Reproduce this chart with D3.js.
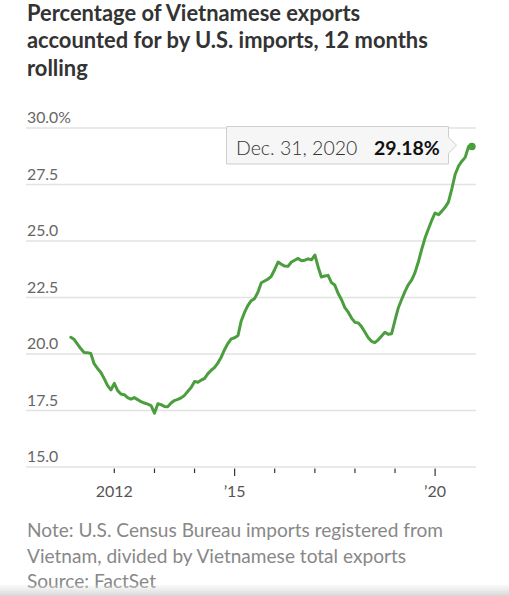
<!DOCTYPE html>
<html>
<head>
<meta charset="utf-8">
<script src="https://cdn.jsdelivr.net/npm/d3@7"></script>
<style>
  html, body { margin: 0; padding: 0; background: #fff; }
  svg { display: block; }
</style>
</head>
<body>
<script>
// ---------- DATA ----------
const titleLines = ["Percentage of Vietnamese exports", "accounted for by U.S. imports, 12 months", "rolling"];
const noteLines = ["Note: U.S. Census Bureau imports registered from", "Vietnam, divided by Vietnamese total exports", "Source: FactSet"];
const startMonth = "2010-12"; // first monthly observation
const values = [
  20.74, 20.64, 20.43, 20.24, 20.07, 20.06, 20.02, 19.57, 19.36, 19.18, 18.91, 18.60,
  18.41, 18.70, 18.38, 18.23, 18.20, 18.07, 18.00, 18.07, 17.98, 17.89, 17.83, 17.78,
  17.72, 17.38, 17.80, 17.76, 17.68, 17.67, 17.83, 17.94, 17.99, 18.06, 18.17, 18.35,
  18.52, 18.78, 18.75, 18.84, 18.91, 19.12, 19.28, 19.40, 19.60, 19.86, 20.19, 20.47,
  20.67, 20.72, 20.82, 21.45, 21.84, 22.14, 22.36, 22.45, 22.73, 23.15, 23.23, 23.31,
  23.44, 23.74, 24.07, 23.97, 23.89, 23.88, 24.07, 24.15, 24.23, 24.13, 24.15, 24.21,
  24.17, 24.38, 23.83, 23.41, 23.45, 23.48, 23.16, 23.05, 22.68, 22.40, 22.05, 21.85,
  21.59, 21.40, 21.37, 21.22, 20.97, 20.73, 20.56, 20.50, 20.63, 20.80, 20.96, 20.87,
  20.90, 21.50, 22.06, 22.40, 22.76, 23.06, 23.27, 23.59, 24.07, 24.63, 25.13, 25.53,
  25.91, 26.24, 26.16, 26.31, 26.49, 26.72, 27.30, 27.94, 28.31, 28.53, 28.70, 29.18,
  29.18
];
const yTicks = [15, 17.5, 20, 22.5, 25, 27.5, 30];
const yTickLabels = ["15.0", "17.5", "20.0", "22.5", "25.0", "27.5", "30.0%"];
const xTickYears = [2012, 2013, 2014, 2015, 2016, 2017, 2018, 2019, 2020];
const xLabelYears = [2012, 2015, 2020];
const xLabelText = ["2012", "\u201915", "\u201920"];
const tooltipDate = "Dec. 31, 2020";
const tooltipValue = "29.18%";

// ---------- SETUP ----------
const W = 509, H = 596;
const svg = d3.select("body").append("svg").attr("width", W).attr("height", H);
const FONT = "Lato, 'Noto Sans', sans-serif";

const parse = d3.timeParse("%Y-%m");
const t0 = parse(startMonth);
const data = values.map((v, i) => ({ date: d3.timeMonth.offset(t0, i), value: v }));

const left = 26, right = 476;
const x = d3.scaleTime()
  .domain([new Date(2012, 0, 1), new Date(2020, 0, 1)])
  .range([114.3, 435.1]);
const y = d3.scaleLinear().domain([15, 30]).range([467, 128]);

// fit a block of text lines so that a chosen line spans a target width
function fitSize(sel, idx, target, base) {
  const n = sel.nodes()[idx];
  const w = n.getComputedTextLength();
  const s = base * target / w;
  sel.attr("font-size", s);
}

// Title
const title = svg.append("g").selectAll("text").data(titleLines).join("text")
  .attr("x", 27).attr("y", (d, i) => 20.5 + i * 27.8)
  .attr("font-family", FONT).attr("font-weight", 700)
  .attr("font-size", 20).attr("fill", "#333")
  .text(d => d);
fitSize(title, 1, 401, 20);

// Grid + y labels
const grid = svg.append("g");
grid.selectAll("line").data(yTicks).join("line")
  .attr("x1", left).attr("x2", right)
  .attr("y1", d => y(d)).attr("y2", d => y(d))
  .attr("stroke", "#e2e2e2").attr("stroke-width", 1.5);
grid.selectAll("text").data(yTicks).join("text")
  .attr("x", 27).attr("y", d => y(d) - 5)
  .attr("font-family", FONT).attr("font-size", 15.8).attr("fill", "#666")
  .text((d, i) => yTickLabels[i]);

// X axis ticks
const xg = svg.append("g");
xg.selectAll("line").data(xTickYears).join("line")
  .attr("x1", d => x(new Date(d, 0, 1))).attr("x2", d => x(new Date(d, 0, 1)))
  .attr("y1", 468.5)
  .attr("y2", d => (d === 2015 || d === 2020) ? 476 : 473)
  .attr("stroke", "#333").attr("stroke-width", 1.2);
xg.selectAll("text").data(xLabelYears).join("text")
  .attr("x", d => x(new Date(d, 0, 1))).attr("y", 497)
  .attr("text-anchor", "middle")
  .attr("font-family", FONT).attr("font-size", 16).attr("fill", "#555")
  .text((d, i) => xLabelText[i]);

// Line
const line = d3.line().x(d => x(d.date)).y(d => y(d.value)).curve(d3.curveLinear);
svg.append("path").datum(data)
  .attr("d", line)
  .attr("fill", "none").attr("stroke", "#4b9e3e")
  .attr("stroke-width", 3).attr("stroke-linejoin", "round").attr("stroke-linecap", "round");

const last = data[data.length - 1];
svg.append("circle").attr("cx", x(last.date)).attr("cy", y(last.value)).attr("r", 3.8)
  .attr("fill", "#4b9e3e");

// Tooltip
const tx = 226.5, ty = 126.5, tw = 222, th = 37.5, tp = 8;
const tt = svg.append("g");
tt.append("path")
  .attr("d", `M${tx},${ty} H${tx + tw} V${ty + th / 2 - tp} L${tx + tw + tp},${ty + th / 2} L${tx + tw},${ty + th / 2 + tp} V${ty + th} H${tx} Z`)
  .attr("fill", "#f6f6f6").attr("stroke", "#cfcfcf").attr("stroke-width", 1);
tt.append("text").attr("x", 236).attr("y", 155)
  .attr("font-family", FONT).attr("font-size", 19.5).attr("fill", "#333").attr("font-weight", 300)
  .text(tooltipDate);
tt.append("text").attr("x", 374).attr("y", 155)
  .attr("font-family", FONT).attr("font-size", 19.5).attr("fill", "#111").attr("font-weight", 700)
  .text(tooltipValue);

// Notes
const notes = svg.append("g").selectAll("text").data(noteLines).join("text")
  .attr("x", 27).attr("y", (d, i) => 537 + i * 25.5)
  .attr("font-family", FONT).attr("font-size", 17).attr("fill", "#888")
  .text(d => d);
fitSize(notes, 0, 416, 17);

// Bottom shade
const defs = svg.append("defs");
const grad = defs.append("linearGradient").attr("id", "shade").attr("x1", 0).attr("y1", 0).attr("x2", 0).attr("y2", 1);
grad.append("stop").attr("offset", "0%").attr("stop-color", "#e4e4e4").attr("stop-opacity", 0.2);
grad.append("stop").attr("offset", "100%").attr("stop-color", "#d6d6d6").attr("stop-opacity", 1);
svg.append("rect").attr("x", 0).attr("y", 585).attr("width", W).attr("height", 11).attr("fill", "url(#shade)");
</script>
</body>
</html>
